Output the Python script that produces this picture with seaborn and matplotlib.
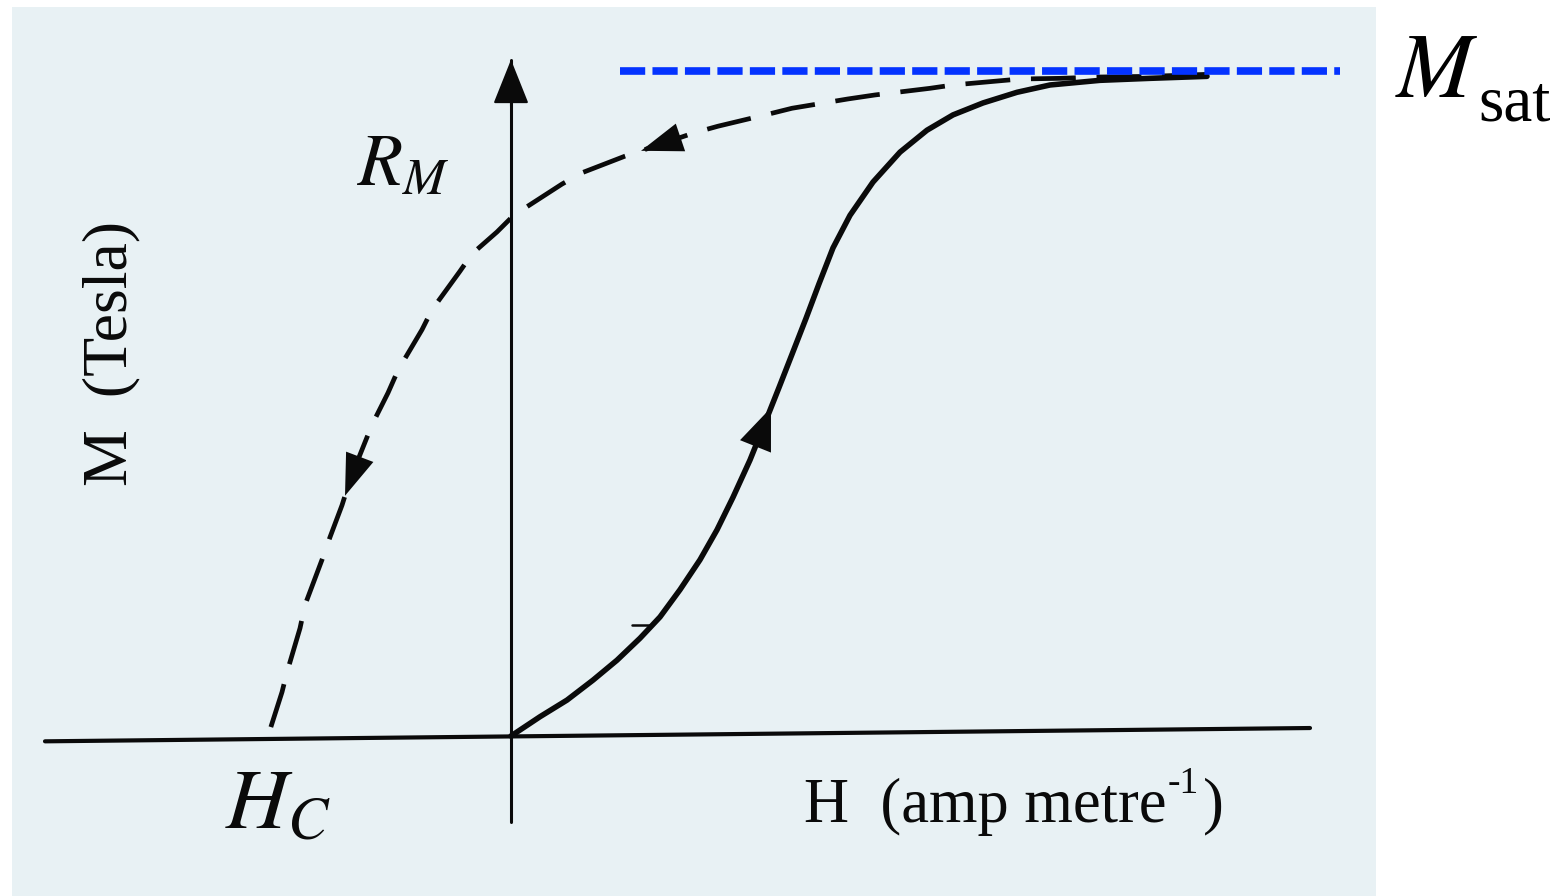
import numpy as np
import pandas as pd
import matplotlib
matplotlib.use("Agg")
import matplotlib.pyplot as plt
import seaborn as sns
from matplotlib.patches import Rectangle

# ---------------- data (H in arbitrary units, M normalised to M_sat = 1) -------------
H_rise = [0.00, 0.29, 0.56, 0.82, 1.06, 1.29, 1.49, 1.69, 1.89, 2.06, 2.22, 2.39, 2.54, 2.68,
          2.81, 2.95, 3.08, 3.22, 3.39, 3.62, 3.89, 4.16, 4.42, 4.72, 5.06, 5.39, 5.89, 6.39, 6.96]
M_rise = [0.000, 0.029, 0.054, 0.084, 0.114, 0.147, 0.179, 0.220, 0.265, 0.310, 0.359, 0.415, 0.471,
          0.524, 0.574, 0.628, 0.680, 0.734, 0.783, 0.833, 0.878, 0.911, 0.934, 0.952, 0.968, 0.979,
          0.986, 0.989, 0.992]

H_fall = [6.96, 6.39, 5.89, 5.49, 5.09, 4.94, 4.42, 4.19, 3.64, 3.37, 2.81, 2.57, 2.07, 1.83, 1.32,
          1.14, 0.71, 0.51, 0.15, 0.00, -0.14, -0.39, -0.51, -0.79, -0.89, -1.13, -1.23, -1.39,
          -1.51, -1.61, -1.69, -1.81, -1.89, -2.06, -2.11, -2.24, -2.29, -2.43]
M_fall = [0.995, 0.992, 0.991, 0.989, 0.988, 0.986, 0.979, 0.974, 0.964, 0.958, 0.944, 0.935, 0.917,
          0.907, 0.881, 0.872, 0.847, 0.830, 0.795, 0.779, 0.758, 0.725, 0.699, 0.641, 0.611, 0.550,
          0.516, 0.468, 0.423, 0.385, 0.347, 0.299, 0.265, 0.197, 0.162, 0.096, 0.066, 0.000]

H_axis_ends = [-4.66, 7.99]
M_axis_tilt = [-0.008, 0.012]
M_axis_ends = [-0.129, 1.017]

M_sat = 1.0
H_sat_line = [1.09, 8.29]

H_tick_mark = [1.21, 1.40]
M_tick_mark = [0.167, 0.167]

# arrow positions along the curves (tail H, tip H)
rise_arrow = (2.42, 2.60)
fall_arrows = [(1.62, 1.30), (-1.42, -1.66)]

labels = {
    "RM": r"$R_M$",
    "HC": r"$H_C$",
    "ylab": "M  (Tesla)",
    "xlab_main": "H  (amp metre",
    "xlab_sup": "-1",
    "xlab_close": ")",
    "Msat_main": r"$M$",
    "Msat_sub": "sat",
}

# ---------------- figure -------------------------------------------------------------
sns.set_theme(style="white")
plt.rcParams["font.family"] = ["Liberation Serif", "DejaVu Serif"]
plt.rcParams["mathtext.fontset"] = "stix"

W, Hpx = 1553, 896
fig = plt.figure(figsize=(W / 100, Hpx / 100), dpi=100, facecolor="white")

ax = fig.add_axes([0, 0, 1, 1])
ax.set_xlim(-5.11, 10.42)
ax.set_ylim(-0.2406, 1.1068)
ax.axis("off")

# scanned paper background
ax.add_patch(Rectangle((12 / W, 0), (1376 - 12) / W, (Hpx - 7) / Hpx,
                       transform=ax.transAxes, facecolor="#e8f1f4",
                       edgecolor="none", zorder=0))

ink = "#0a0a0a"
line_kw = dict(sort=False, estimator=None, errorbar=None, solid_capstyle="round",
               solid_joinstyle="round")

# axes of the sketch
sns.lineplot(x=H_axis_ends, y=M_axis_tilt, ax=ax, color=ink, lw=3.0, **line_kw)
sns.lineplot(x=[0, 0], y=M_axis_ends, ax=ax, color=ink, lw=2.2, **line_kw)
ax.annotate("", xy=(0, M_axis_ends[1]), xytext=(0, M_axis_ends[1] - 0.07),
            arrowprops=dict(arrowstyle="-|>,head_length=0.95,head_width=0.38",
                            color=ink, lw=1.5, shrinkA=0, shrinkB=0, mutation_scale=30))

# initial magnetisation curve (solid)
sns.lineplot(x=H_rise, y=M_rise, ax=ax, color=ink, lw=4.0, **line_kw)
sns.lineplot(x=H_tick_mark, y=M_tick_mark, ax=ax, color=ink, lw=1.8, **line_kw)

# demagnetisation curve (dashed)
sns.lineplot(x=H_fall, y=M_fall, ax=ax, color=ink, lw=3.4, sort=False, estimator=None,
             errorbar=None, linestyle=(0, (9.5, 4.4)), dash_capstyle="butt",
             dash_joinstyle="round")

# arrowheads
def on_curve(Hs, Ms, h):
    order = np.argsort(Hs)
    return float(np.interp(h, np.asarray(Hs)[order], np.asarray(Ms)[order]))

a0, a1 = rise_arrow
ax.annotate("", xy=(a1, on_curve(H_rise, M_rise, a1)), xytext=(a0, on_curve(H_rise, M_rise, a0)),
            arrowprops=dict(arrowstyle="-|>,head_length=1.0,head_width=0.4",
                            color=ink, lw=0, shrinkA=0, shrinkB=0, mutation_scale=30))
for t0, t1 in fall_arrows:
    ax.annotate("", xy=(t1, on_curve(H_fall, M_fall, t1)), xytext=(t0, on_curve(H_fall, M_fall, t0)),
                arrowprops=dict(arrowstyle="-|>,head_length=1.0,head_width=0.35",
                                color=ink, lw=0, shrinkA=0, shrinkB=0, mutation_scale=30))

# saturation line (blue dashed)
sns.lineplot(x=H_sat_line, y=[M_sat, M_sat], ax=ax, color="#0433ff", lw=5.5, sort=False,
             estimator=None, errorbar=None, linestyle=(0, (3.3, 0.95)), dash_capstyle="butt")

# texts
ax.text(-1.54, 0.829, labels["RM"], fontsize=53, color=ink, ha="left", va="baseline")
ax.text(-2.86, -0.138, labels["HC"], fontsize=62, color=ink, ha="left", va="baseline")
ax.text(-4.00, 0.575, labels["ylab"], fontsize=46, color=ink, ha="center", va="center",
        rotation=90)
t_main = ax.text(2.93, -0.129, labels["xlab_main"], fontsize=45, color=ink,
                 ha="left", va="baseline")
t_sup = ax.annotate(labels["xlab_sup"], xy=(1, 1), xycoords=t_main, xytext=(1, 8),
                    textcoords="offset points", fontsize=27, color=ink, ha="left", va="top")
ax.annotate(labels["xlab_close"], xy=(1, 0), xycoords=(t_sup, t_main), xytext=(3, 0),
            textcoords="offset points", fontsize=45, color=ink, ha="left", va="bottom")
ax.text(8.84, 0.961, labels["Msat_main"], fontsize=66, color="black", ha="left", va="baseline")
ax.text(9.67, 0.926, labels["Msat_sub"], fontsize=47, color="black", ha="left", va="baseline")

if ax.get_legend() is not None:
    ax.get_legend().remove()

fig.savefig("out.png", dpi=100, facecolor="white")
